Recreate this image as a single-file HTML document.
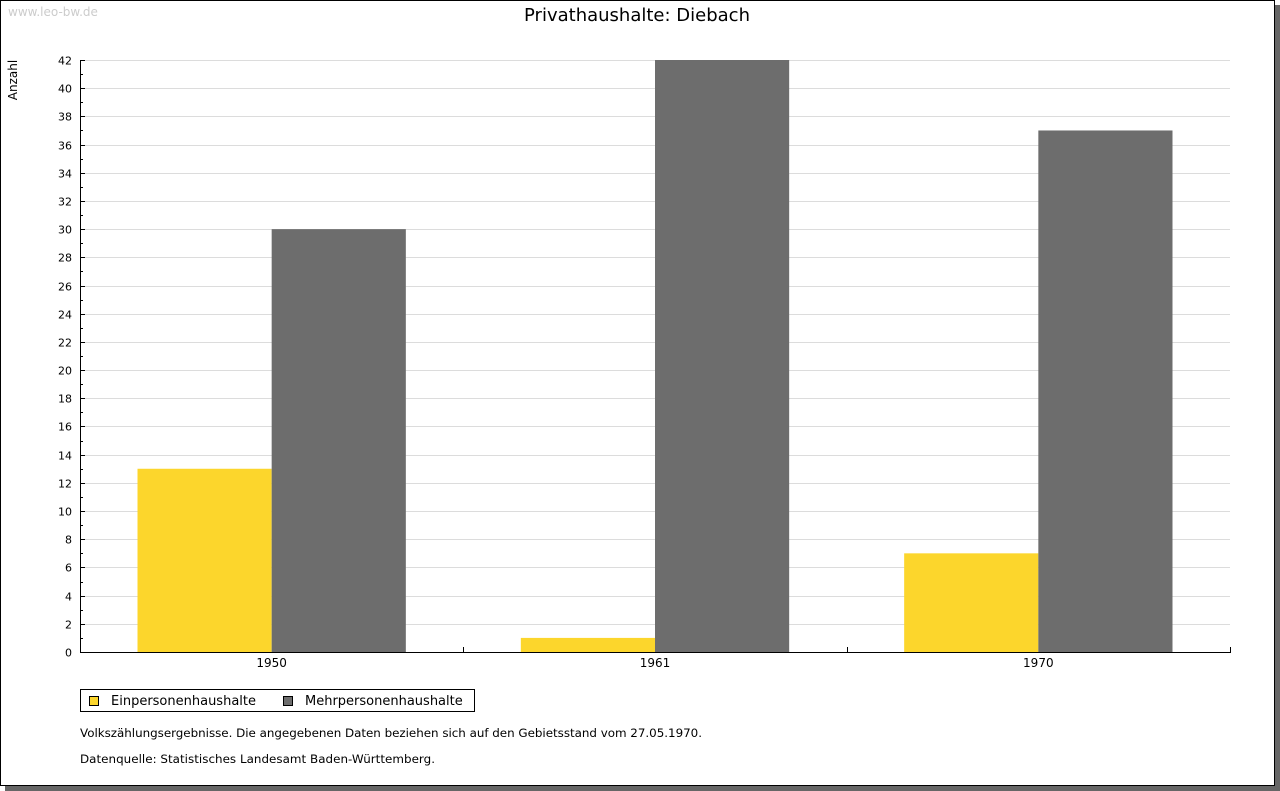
<!DOCTYPE html>
<html><head><meta charset="utf-8"><style>
body{margin:0;background:#fff;}
svg{display:block;font-family:"DejaVu Sans","Liberation Sans",sans-serif;}
</style></head><body>
<svg id="c" width="1280" height="791" xmlns="http://www.w3.org/2000/svg">
<rect x="5" y="5" width="1275" height="786" fill="#666"/>
<rect x="0.5" y="0.5" width="1274" height="785" fill="#fff" stroke="#000"/>
<text x="8" y="16" font-size="12" fill="#ccc">www.leo-bw.de</text>
<text x="637" y="21" font-size="18" text-anchor="middle" fill="#000">Privathaushalte: Diebach</text>
<text transform="translate(17,80) rotate(-90)" font-size="12" text-anchor="middle">Anzahl</text>
<g id="grid"></g><g id="bars"></g><g id="axes"></g>
<g>
<rect x="80.5" y="689.5" width="394" height="22" fill="#fff" stroke="#000"/>
<rect x="89.5" y="696.5" width="9" height="9" fill="#fcd62c" stroke="#000"/>
<text x="111" y="705" font-size="13">Einpersonenhaushalte</text>
<rect x="283.5" y="696.5" width="9" height="9" fill="#6d6d6d" stroke="#000"/>
<text x="305" y="705" font-size="13">Mehrpersonenhaushalte</text>
</g>
<text x="80" y="737" font-size="11.9" textLength="622">Volkszählungsergebnisse. Die angegebenen Daten beziehen sich auf den Gebietsstand vom 27.05.1970.</text>
<text x="80" y="763" font-size="11.9" textLength="355">Datenquelle: Statistisches Landesamt Baden-Württemberg.</text>
</svg>
<script>
const categories=["1950","1961","1970"];
const einpersonen=[13,1,7];
const mehrpersonen=[30,42,37];
const yTicks=[0,2,4,6,8,10,12,14,16,18,20,22,24,26,28,30,32,34,36,38,40,42];
const NS="http://www.w3.org/2000/svg";
const X0=80,X1=1230,Y0=652,Y1=60,YMAX=42;
const y=v=>Y0-(Y0-Y1)*v/YMAX;
const band=(X1-X0)/categories.length;
function mk(t,a,p){const e=document.createElementNS(NS,t);for(const k in a)e.setAttribute(k,a[k]);p.appendChild(e);return e;}
const grid=document.getElementById('grid'),bars=document.getElementById('bars'),axes=document.getElementById('axes');
yTicks.forEach(v=>{
 const yy=Math.round(y(v))+0.5;
 if(v>0){const g=mk('line',{x1:X0,x2:X1,y1:yy,y2:yy,stroke:'#dcdcdc'},grid);
 
 }
 mk('line',{x1:X0,x2:X0+5,y1:yy,y2:yy,stroke:'#000'},axes);
 const t=mk('text',{x:72,y:yy+4,'font-size':11,'text-anchor':'end'},axes);t.textContent=v;
 
 
 if(v<YMAX){const ym=Math.round(y(v+1))+0.5;mk('line',{x1:X0,x2:X0+3,y1:ym,y2:ym,stroke:'#000'},axes);}
});
const bw=band*0.35;
categories.forEach((c,i)=>{
 const cx=X0+band*(i+0.5);
 const r1=mk('rect',{x:cx-bw,y:y(einpersonen[i]),width:bw,height:Y0-y(einpersonen[i]),fill:'#fcd62c'},bars);
 
 
 const r2=mk('rect',{x:cx,y:y(mehrpersonen[i]),width:bw,height:Y0-y(mehrpersonen[i]),fill:'#6d6d6d'},bars);
 
 
 const t=mk('text',{x:cx,y:Y0+15,'font-size':12,'text-anchor':'middle'},axes);t.textContent=c;
 
 
 const bx=Math.round(X0+band*(i+1))+0.5;
 mk('line',{x1:bx,x2:bx,y1:Y0-5,y2:Y0,stroke:'#000'},axes);
});
const ya=mk('line',{x1:X0+0.5,x2:X0+0.5,y1:Y1,y2:Y0+1,stroke:'#000'},axes);


const xa=mk('line',{x1:X0,x2:X1+1,y1:Y0+0.5,y2:Y0+0.5,stroke:'#000'},axes);


</script>
</body></html>
